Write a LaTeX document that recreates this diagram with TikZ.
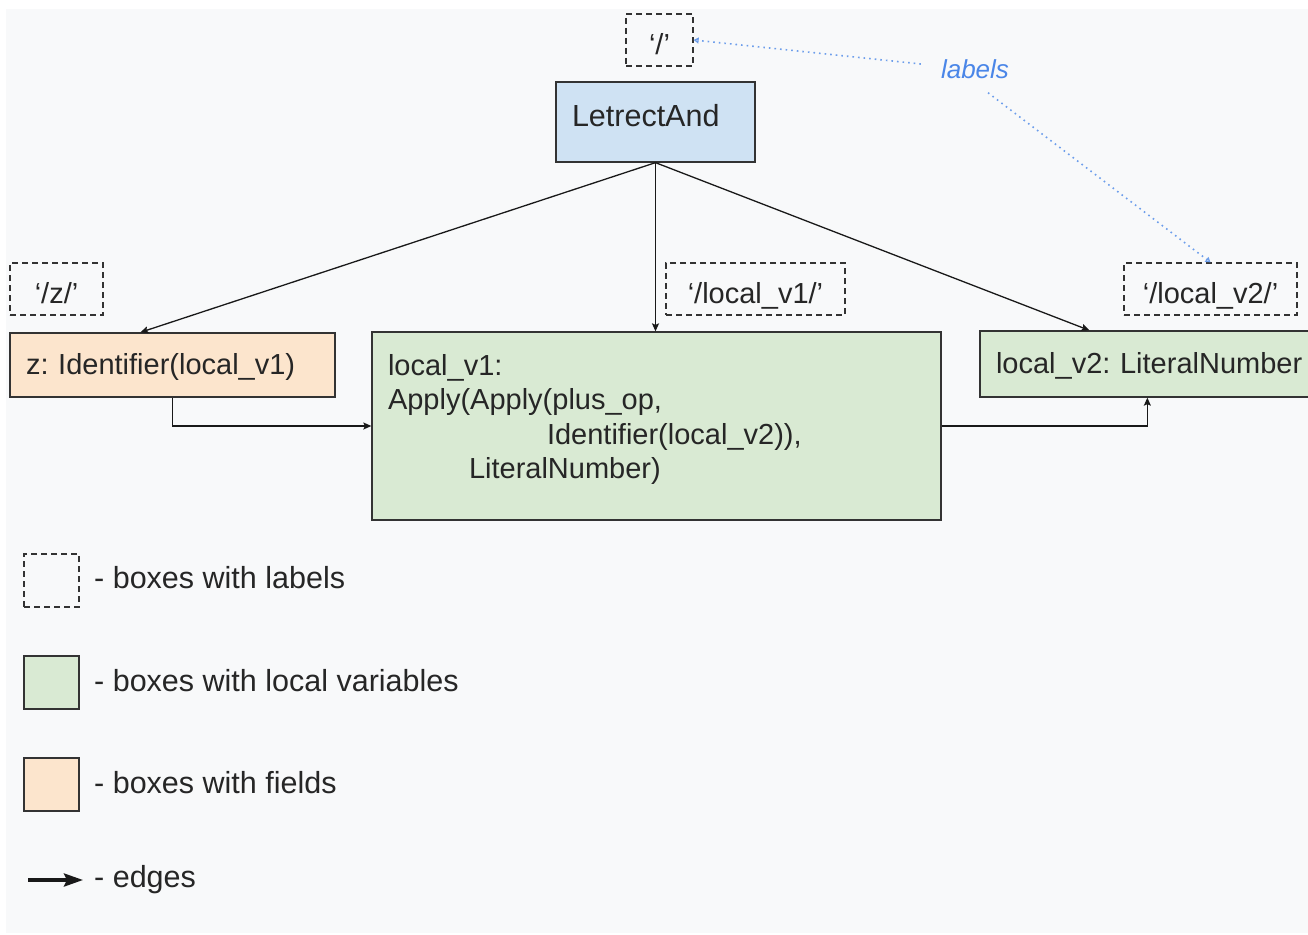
\documentclass[tikz,border=0pt]{standalone}
\usepackage{fontspec}
\setmainfont{Liberation Sans}
\usetikzlibrary{arrows.meta,calc}
\definecolor{bgc}{HTML}{F8F9FA}
\definecolor{boxline}{HTML}{333333}
\definecolor{blueFill}{HTML}{CFE2F3}
\definecolor{greenFill}{HTML}{D9EAD3}
\definecolor{peachFill}{HTML}{FCE5CD}
\definecolor{lblBlue}{HTML}{4A86E8}
\definecolor{dotBlue}{HTML}{6D9EEB}
\newcommand\mainfs{\fontsize{29}{34.5}\selectfont}
\newcommand\legfs{\fontsize{30.5}{36}\selectfont}
\newcommand\lblfs{\fontsize{26}{30}\selectfont\itshape}
\begin{document}
\frenchspacing
\begin{tikzpicture}[x=1pt,y=-1pt,
  solidbox/.style={draw=boxline, line width=1.3pt, rectangle, inner sep=0pt, font=\mainfs, text=black!85},
  tagbox/.style={draw=boxline, line width=1.3pt, dash pattern=on 6pt off 4pt, rectangle, inner sep=0pt, font=\mainfs, text=black!85, text height=30pt, text depth=1pt},
  linebox/.style={solidbox, align=left, inner xsep=16pt, text height=25pt, text depth=6pt},
  edge/.style={draw=black!90, line width=1.3pt, -{Stealth[length=8pt,width=7pt,inset=1.5pt]}},
  lbledge/.style={draw=dotBlue, line width=1.6pt, dash pattern=on 1.6pt off 4pt, -{Triangle[open,length=5pt,width=6pt]}},
  legtext/.style={anchor=base west, inner sep=0pt, font=\legfs, text=black!85}
]
\useasboundingbox (0,0) rectangle (1308,934);
\fill[white] (0,0) rectangle (1308,934);
\fill[bgc] (6,9) rectangle (1308,933);

% label boxes
\node[tagbox, minimum width=67pt, minimum height=52pt] (lab1) at (659.5,40) {‘/’};
\node[tagbox, minimum width=93pt, minimum height=52pt] (labz) at (56.5,289) {‘/z/’};
\node[tagbox, minimum width=179pt, minimum height=52pt] (lab1v) at (755.5,289) {‘/local\_v1/’};
\node[tagbox, minimum width=173pt, minimum height=52pt] (lab2v) at (1210.5,289) {‘/local\_v2/’};

% main boxes
\node[solidbox, fill=blueFill, minimum width=199pt, minimum height=80pt] (top) at (655.5,122)
  {\parbox[c][40pt][t]{167pt}{\fontsize{30.5}{34.5}\selectfont\strut LetrectAnd}};
\node[linebox, fill=peachFill, minimum width=325pt, minimum height=64pt, text width=293pt] (zbox) at (172.5,365)
  {z: Identifier(local\_v1)};
\node[solidbox, fill=greenFill, minimum width=569pt, minimum height=188pt] (v1box) at (656.5,426)
  {\parbox[c][150pt][t]{537pt}{\strut local\_v1:\\
   Apply(Apply(plus\_op,\\
   \hspace*{159pt}Identifier(local\_v2)),\\
   \hspace*{81pt}LiteralNumber)}};
\node[linebox, fill=greenFill, minimum width=340pt, minimum height=66pt, text width=308pt] (v2box) at (1150,364)
  {local\_v2: LiteralNumber};

% labels annotation
\node[inner sep=0pt, font=\lblfs, text=lblBlue] (labels) at (975,69) {labels};
\draw[lbledge] ([xshift=-20pt,yshift=5pt]labels.west) -- (lab1.east);
\draw[lbledge] ([xshift=13pt,yshift=-14pt]labels.south) -- (lab2v.north);

% edges
\draw[edge] (top.south) -- ([xshift=131pt]zbox.north west);
\draw[edge] (top.south) -- (top.south |- v1box.north);
\draw[edge] (top.south) -- ([xshift=110pt]v2box.north west);
\draw[edge] (zbox.south) |- (v1box.west);
\draw[edge] (v1box.east) -| ([xshift=168pt]v2box.south west);

% legend
\node[tagbox, minimum width=55pt, minimum height=53pt] (legLab) at (51.5,580.5) {};
\node[solidbox, fill=greenFill, minimum width=55pt, minimum height=53pt] (legVar) at (51.5,682.5) {};
\node[solidbox, fill=peachFill, minimum width=55pt, minimum height=53pt] (legFld) at (51.5,784.5) {};
\coordinate (legA) at (28,880);
\coordinate (legB) at (83,880);
\draw[black!90, line width=3.5pt, -{Stealth[length=19pt,width=13pt,inset=3pt]}] (legA) -- (legB);
\node[legtext] (t1) at (94,588) {- boxes with labels};
\node[legtext] (t2) at (94,691) {- boxes with local variables};
\node[legtext] (t3) at (94,793) {- boxes with fields};
\node[legtext] (t4) at (94,887) {- edges};
\end{tikzpicture}
\end{document}
